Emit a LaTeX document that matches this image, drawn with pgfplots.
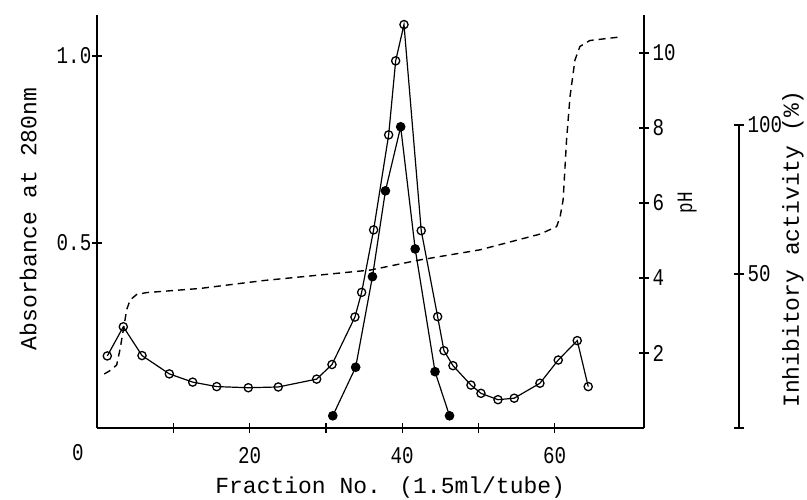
\documentclass[border=0pt]{standalone}
\usepackage{fontspec}
\setmainfont{Liberation Mono}
\newfontfamily\tickfont[FakeStretch=0.8]{Liberation Mono}
\usepackage{pgfplots}
\pgfplotsset{compat=1.18}

\pgfplotstableread{
x y
1.35 0.198
3.45 0.276
5.90 0.199
9.48 0.150
12.54 0.128
15.69 0.116
19.83 0.113
23.76 0.115
28.79 0.136
30.80 0.175
33.81 0.302
34.69 0.368
36.26 0.535
38.23 0.789
39.15 0.987
40.24 1.084
42.50 0.533
44.65 0.303
45.48 0.212
46.66 0.172
49.02 0.120
50.33 0.098
52.56 0.081
54.69 0.085
58.06 0.125
60.46 0.187
62.95 0.239
64.39 0.116
}\absdata

\pgfplotstableread{
x y
30.9 2.4
33.9 18.7
36.1 49.1
37.8 77.9
39.8 99.4
41.7 58.4
44.3 17.2
46.2 2.4
}\inhdata

\pgfplotstableread{
x y
0.96 1.44
1.70 1.53
2.58 1.68
3.00 2.08
3.45 2.61
3.89 3.15
4.33 3.41
5.20 3.56
6.51 3.61
13.5 3.72
21.8 3.93
35.8 4.21
42.3 4.48
50.2 4.75
58.1 5.17
60.25 5.37
60.7 5.63
61.1 6.08
61.55 7.68
62.0 8.83
62.65 9.81
63.3 10.17
64.6 10.33
68.8 10.43
}\phdata

\begin{document}
\begin{tikzpicture}[x=1pt,y=1pt]
\path[use as bounding box] (0,0) rectangle (807,499);
\pgfplotsset{
  every axis/.append style={
    scale only axis,
    anchor=south west,
    tick style={line width=1.3pt, black},
    tick align=inside,
    major tick length=10pt,
    clip=false,
    /pgf/number format/assume math mode=true,
    ticklabel style={font=\tickfont\fontsize{24}{24}\selectfont},
  }
}
% Absorbance axis
\begin{axis}[
  at={(97pt,71pt)}, width=547pt, height=413pt,
  xmin=0, xmax=71.7, ymin=0.0053, ymax=1.1096,
  axis x line=bottom, axis y line=left,
  x axis line style={-, line width=1.3pt},
  y axis line style={-, line width=1.3pt},
  xtick={10,20,30,40,50,60}, xticklabels={,20,,40,,60},
  xticklabel style={anchor=center, yshift=-23pt},
  ytick={0.5,1.0}, yticklabels={0.5,1.0},
  yticklabel style={anchor=center, xshift=-18pt},
  xlabel={Fraction No. (1.5ml/tube)},
  xlabel style={at={(axis description cs:0.536,-0.143)}, anchor=center, font=\fontsize{23}{23}\selectfont},
  ylabel={Absorbance at 280nm},
  ylabel style={at={(axis description cs:-0.126,0.506)}, anchor=center, font=\fontsize{23}{23}\selectfont},
]
\addplot[black, line width=1.2pt, mark=o, mark size=4.1pt, mark options={fill=white, line width=1.3pt}] table {\absdata};
\node[font=\tickfont\fontsize{24}{24}\selectfont] at ([xshift=-19pt,yshift=-25pt]axis cs:0,0.0053) {0};
\end{axis}
% pH axis
\begin{axis}[
  at={(97pt,71pt)}, width=547pt, height=413pt,
  xmin=0, xmax=71.7, ymin=0, ymax=11.01,
  axis x line=none, axis y line=right,
  y axis line style={-, line width=1.3pt},
  ytick={2,4,6,8,10},
  ylabel={pH},
  ylabel style={at={(axis description cs:1.079,0.545)}, anchor=center, font=\tickfont\fontsize{22}{22}\selectfont},
]
\addplot[black, line width=1.4pt, dash pattern=on 7pt off 5pt] table {\phdata};
\end{axis}
% Inhibitory activity axis
\begin{axis}[
  at={(97pt,71pt)}, width=642pt, height=303pt,
  xmin=0, xmax=84.14, ymin=-1.7, ymax=100,
  axis x line=none, axis y line=right,
  y axis line style={-, line width=1.3pt},
  ytick={-1.68,50,100}, yticklabels={,50,100},
  ylabel={Inhibitory activity (\%)},
  ylabel style={at={(axis description cs:1.084,0.591)}, anchor=center, font=\fontsize{23}{23}\selectfont},
]
\addplot[black, line width=1.2pt, mark=*, mark size=4.2pt] table {\inhdata};
\end{axis}
\end{tikzpicture}
\end{document}
